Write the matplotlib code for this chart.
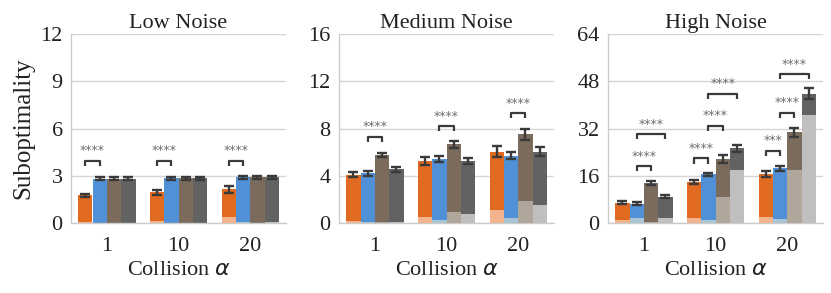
import matplotlib
matplotlib.use("Agg")
import matplotlib.pyplot as plt
import numpy as np

plt.rcParams['font.family'] = ['Liberation Serif', 'DejaVu Serif']

alphas = ['1', '10', '20']
panel_titles = ['Low Noise', 'Medium Noise', 'High Noise']
yticks = [[0, 3, 6, 9, 12], [0, 4, 8, 12, 16], [0, 16, 32, 48, 64]]

# totals per method (orange, blue, brown, gray) across alpha groups
low_vals = [[1.75, 1.95, 2.15], [2.8, 2.85, 2.9], [2.8, 2.85, 2.9], [2.8, 2.85, 2.9]]
low_err = [[0.1, 0.15, 0.22], [0.1, 0.1, 0.1], [0.1, 0.1, 0.1], [0.1, 0.1, 0.1]]
low_base = [[0.05, 0.15, 0.35], [0.02, 0.03, 0.05], [0.02, 0.02, 0.03], [0.02, 0.03, 0.05]]

med_vals = [[4.1, 5.25, 6.05], [4.2, 5.45, 5.7], [5.75, 6.65, 7.5], [4.55, 5.25, 6.05]]
med_err = [[0.2, 0.3, 0.45], [0.2, 0.25, 0.3], [0.2, 0.3, 0.5], [0.2, 0.25, 0.35]]
med_base = [[0.2, 0.5, 1.07], [0.05, 0.25, 0.45], [0.05, 0.9, 1.86], [0.05, 0.75, 1.52]]

high_vals = [[6.9, 13.9, 16.5], [6.5, 16.5, 18.5], [13.5, 21.7, 30.7], [8.9, 25.3, 43.8]]
high_err = [[0.5, 0.8, 1.0], [0.5, 0.6, 0.8], [0.8, 1.3, 1.6], [0.6, 1.2, 1.8]]
high_base = [[1.0, 1.6, 1.9], [1.6, 1.0, 1.5], [0.5, 8.9, 17.9], [1.6, 17.9, 36.6]]

# significance brackets: (group, bar_i, bar_j, height, label)
low_sig = [(0, 0, 1, 3.94, '****'), (1, 0, 1, 3.94, '****'), (2, 0, 1, 3.94, '****')]
med_sig = [(0, 1, 2, 7.3, '****'), (1, 1, 2, 8.2, '****'), (2, 1, 2, 9.3, '****')]
high_sig = [(0, 1, 2, 19.3, '****'), (0, 1, 3, 30.1, '****'),
            (1, 0, 1, 21.9, '****'), (1, 1, 2, 32.9, '****'), (1, 1, 3, 43.7, '****'),
            (2, 0, 1, 24.4, '***'), (2, 1, 2, 37.3, '****'), (2, 1, 3, 50.4, '****')]

colors = ['#E06A1F', '#4F90D6', '#7A6B5D', '#626262']
light_colors = ['#F2B48F', '#A9C5D6', '#B0A69C', '#BFBFBF']

panels = [(low_vals, low_err, low_base, low_sig),
          (med_vals, med_err, med_base, med_sig),
          (high_vals, high_err, high_base, high_sig)]

fig = plt.figure(figsize=(8.31, 2.93), dpi=100)
lefts = [71 / 831, 339 / 831, 608 / 831]
bottom = 1 - 223 / 293
height = (223 - 34) / 293
width = 215 / 831

nb = 4
bw = 0.8 / nb
x = np.arange(len(alphas))

for p, (vals, errs, bases, sigs) in enumerate(panels):
    ax = fig.add_axes([lefts[p], bottom, width, height])
    ymax = yticks[p][-1]
    for k in range(nb):
        pos = x - 0.4 + bw * (k + 0.5)
        ax.bar(pos, vals[k], width=bw, color=colors[k], zorder=2, linewidth=0)
        ax.bar(pos, bases[k], width=bw, color=light_colors[k], zorder=3, linewidth=0)
        ax.errorbar(pos, vals[k], yerr=errs[k], fmt='none', ecolor='#3a3a3a',
                    elinewidth=1.7, capsize=3.5, capthick=1.7, zorder=4)
    tick = 0.028 * ymax
    for g, i, j, h, lab in sigs:
        xi = g - 0.4 + bw * (i + 0.5)
        xj = g - 0.4 + bw * (j + 0.5)
        ax.plot([xi, xi, xj, xj], [h - tick, h, h, h - tick], color='#3a3a3a',
                lw=1.6, zorder=5, solid_capstyle='butt')
        ax.annotate(lab, xy=((xi + xj) / 2, h), xytext=(0, 2.5),
                    textcoords='offset points', ha='center', va='bottom',
                    fontsize=9, color='#6e6e6e', family='DejaVu Sans')
    ax.set_xlim(-0.5, len(alphas) - 0.5)
    ax.set_ylim(0, ymax)
    ax.set_yticks(yticks[p])
    ax.set_xticks(x)
    ax.set_xticklabels(alphas)
    ax.tick_params(axis='both', labelsize=16, length=0, colors='#222222')
    ax.tick_params(axis='x', pad=10)
    ax.tick_params(axis='y', pad=6)
    ax.grid(axis='y', color='#d5d5d5', lw=1, zorder=0)
    ax.set_axisbelow(True)
    for s in ['top', 'right']:
        ax.spines[s].set_visible(False)
    for s in ['left', 'bottom']:
        ax.spines[s].set_color('#cccccc')
        ax.spines[s].set_linewidth(1)
    ax.set_title(panel_titles[p], fontsize=16, pad=4, color='#222222')
    ax.set_xlabel(r'Collision $\alpha$', fontsize=16, labelpad=4, color='#222222')
    if p == 0:
        ax.set_ylabel('Suboptimality', fontsize=18, labelpad=4, color='#222222')

fig.savefig('out.png', dpi=100)
